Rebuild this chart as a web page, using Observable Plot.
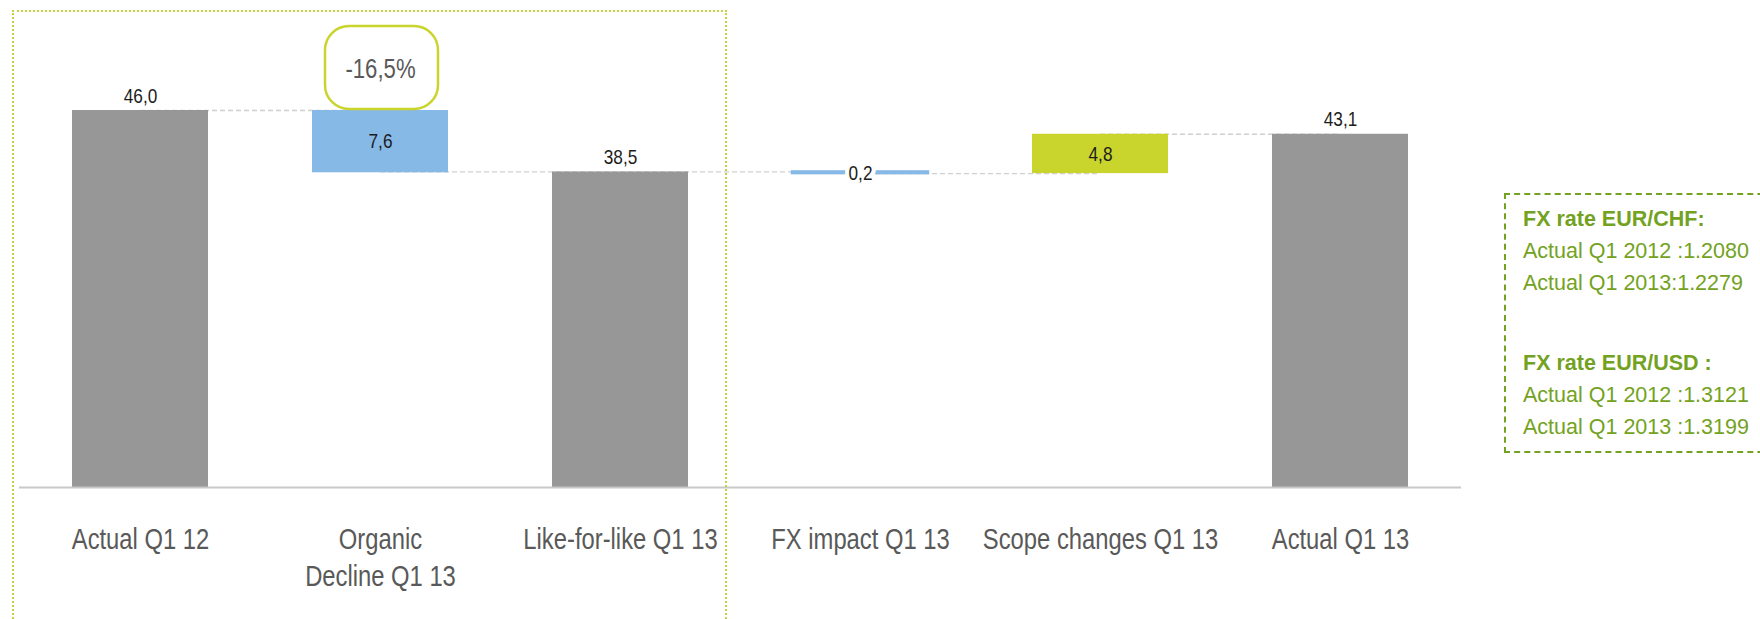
<!DOCTYPE html>
<html>
<head>
<meta charset="utf-8">
<script src="https://cdn.jsdelivr.net/npm/d3@7"></script>
<script src="https://cdn.jsdelivr.net/npm/@observablehq/plot@0.6"></script>
<style>
  html, body { margin: 0; padding: 0; background: #fff; }
  #page { position: relative; width: 1760px; height: 619px; overflow: hidden; }
  #chart { position: absolute; left: 0; top: 0; }
  #scope-box {
    position: absolute; left: 12px; top: 10px; width: 715px; height: 700px;
    border: 2px dotted #c4d23e; box-sizing: border-box; pointer-events: none;
  }
  #fx-box {
    position: absolute; left: 1504px; top: 193px; width: 300px; height: 260px;
    border: 2px dashed #73a222; box-sizing: border-box;
    padding: 8px 0 0 17px;
    font-family: "Liberation Sans", Arial, sans-serif; font-size: 21.5px;
    line-height: 32px; color: #73a222;
  }
  #fx-box .head { font-weight: bold; }
  #fx-box .gap { height: 48px; }
</style>
</head>
<body>
<div id="page">
  <div id="chart"></div>
  <div id="scope-box"></div>
  <div id="fx-box">
    <div class="head">FX rate EUR/CHF:</div>
    <div>Actual Q1 2012 :1.2080</div>
    <div>Actual Q1 2013:1.2279</div>
    <div class="gap"></div>
    <div class="head">FX rate EUR/USD :</div>
    <div>Actual Q1 2012 :1.3121</div>
    <div>Actual Q1 2013 :1.3199</div>
  </div>
</div>
<script>
// Bridge steps, in order
const categories = ["Actual Q1 12", "Organic Decline Q1 13", "Like-for-like Q1 13", "FX impact Q1 13", "Scope changes Q1 13", "Actual Q1 13"];
const axisLabels = ["Actual Q1 12", "Organic\nDecline Q1 13", "Like-for-like Q1 13", "FX impact Q1 13", "Scope changes Q1 13", "Actual Q1 13"];
// Totals are absolute levels, deltas are changes from the previous level
const kinds = ["total", "delta", "total", "delta", "delta", "total"];
const values = [46.0, -7.6, 38.5, -0.2, 4.8, 43.1];

const GREY = "#979797", BLUE = "#86b9e6", LIME = "#c9d42d";
const FONT = "'Liberation Sans', Arial, sans-serif";

const W = 1480, ML = 19, MR = 19;
const PAD_IN = 0.434, PAD_OUT = 0.217;

// Build floating bar extents
let level = 0;
const steps = categories.map((c, i) => {
  const v = values[i];
  let y1, y2;
  if (kinds[i] === "total") { y1 = 0; y2 = v; level = v; }
  else { y1 = level; y2 = level + v; level = y2; }
  const color = kinds[i] === "total" ? GREY : (v < 0 ? BLUE : LIME);
  return {cat: c, kind: kinds[i], value: v, y1, y2, color,
          label: Math.abs(v).toFixed(1).replace(".", ",")};
});

// Connectors run between consecutive bars, at the level where the next bar starts
const connectors = steps.slice(0, -1).map((s, i) => {
  const next = steps[i + 1];
  return {from: s.cat, to: next.cat, y: next.kind === "total" ? next.value : next.y1};
});

const totals = steps.filter(s => s.kind === "total");
const deltas = steps.filter(s => s.kind === "delta");
const thin = deltas.filter(s => Math.abs(s.value) < 0.5);

// Organic change as a share of the starting level
const organicPct = values[1] / values[0];
const callout = [{cat: categories[1], y: values[0], text: (organicPct * 100).toFixed(1).replace(".", ",") + "%"}];

// Half a bar width, so connectors stop at the bar edges
const bandwidth = d3.scaleBand(categories, [ML, W - MR]).paddingInner(PAD_IN).paddingOuter(PAD_OUT).bandwidth();

const chart = Plot.plot({
  width: W,
  height: 619,
  marginLeft: ML,
  marginRight: MR,
  marginTop: 110,
  marginBottom: 132,
  style: {fontFamily: FONT, color: "#595959", background: "transparent", overflow: "visible"},
  x: {domain: categories, paddingInner: PAD_IN, paddingOuter: PAD_OUT, label: null},
  y: {domain: [0, d3.max(values)], axis: null},
  marks: [
    Plot.ruleY(connectors, {x1: "from", x2: "to", y: "y", insetLeft: bandwidth / 2, insetRight: bandwidth / 2,
      stroke: "#cfcfcf", strokeWidth: 1.3, strokeDasharray: "5,3"}),
    Plot.barY(steps, {x: "cat", y1: "y1", y2: "y2", fill: "color"}),
    Plot.barY(thin, {x: "cat", y1: "y1", y2: "y2", fill: "color", stroke: "color", strokeWidth: 2.5}),
    Plot.ruleY([0], {stroke: "#c8c8c8", strokeWidth: 2}),
    // Labels above totals
    Plot.text(totals, {x: "cat", y: "value", text: "label", lineAnchor: "bottom", dy: -8, fontSize: 21, fill: "#1c1c1c"}),
    // Labels centred on the change bars
    Plot.text(deltas, {x: "cat", y: d => (d.y1 + d.y2) / 2, text: "label", lineAnchor: "middle", fontSize: 21, fill: "#1c1c1c",
      stroke: d => Math.abs(d.value) < 0.5 ? "white" : "none", strokeWidth: 10}),
    // Rounded call-out above the organic decline
    Plot.barY(callout, {x: "cat", y1: "y", y2: "y", insetTop: -84, insetBottom: 1, insetLeft: 13, insetRight: 10, rx: 24,
      fill: "white", stroke: LIME, strokeWidth: 2.5}),
    Plot.text(callout, {x: "cat", y: "y", text: "text", dy: -41, lineAnchor: "middle", fontSize: 27, fill: "#595959"}),
    Plot.axisX({tickSize: 0, tickPadding: 35, fontSize: 29, lineHeight: 1.28, tickFormat: d => axisLabels[categories.indexOf(d)], label: null})
  ]
});
document.getElementById("chart").append(chart);

// Narrow the chart lettering (condensed style)
chart.querySelectorAll("text").forEach(t => {
  const parts = t.querySelectorAll("tspan");
  (parts.length ? [...parts] : [t]).forEach(el => {
    const w = el.getComputedTextLength();
    if (w > 0) {
      el.setAttribute("textLength", (w * 0.82).toFixed(2));
      el.setAttribute("lengthAdjust", "spacingAndGlyphs");
    }
  });
});
</script>
</body>
</html>
